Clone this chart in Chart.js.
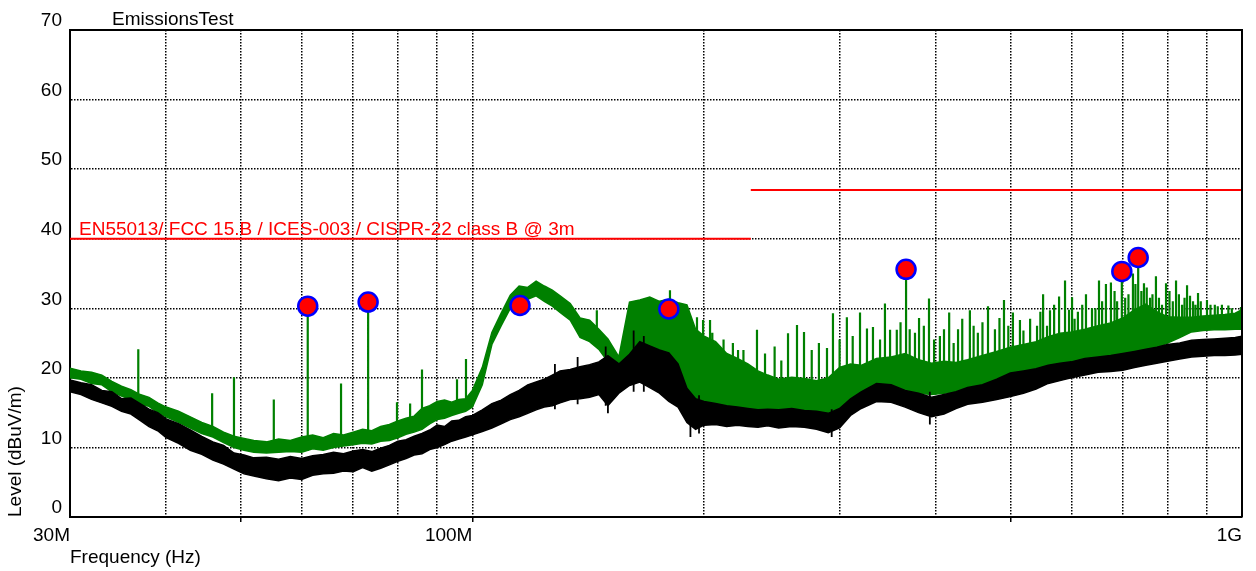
<!DOCTYPE html>
<html>
<head>
<meta charset="utf-8">
<title>EmissionsTest</title>
<script src="https://cdn.jsdelivr.net/npm/chart.js@4.4.1/dist/chart.umd.min.js"></script>
<style>
  html, body { margin: 0; padding: 0; background: #fff; }
  canvas { display: block; }
</style>
</head>
<body>
<canvas id="chart" width="1256" height="571"></canvas>
<script>
// frequencies in MHz, levels in dBuV/m
const chartTitle = "EmissionsTest";
const limitLabel = "EN55013/ FCC 15.B / ICES-003 / CISPR-22 class B @ 3m";

const bandFreq = [30, 31, 32, 33, 34, 35, 36, 37, 38, 39, 40, 41.5, 43, 44.5, 46, 47.5, 49, 50.5,
  52, 54, 56, 58, 60, 62, 64, 66, 68, 70, 72, 74, 76, 78, 80, 82, 84, 86, 88, 90, 92, 94, 96, 98, 100,
  103, 106, 109, 112, 115, 118, 121, 124, 127, 130, 134, 138, 142, 146, 150,
  155, 160, 165, 170, 175, 180, 185, 190, 195, 200, 207, 214, 221, 228, 235, 242,
  250, 260, 270, 280, 290, 300, 310, 320, 335, 350, 365, 380, 395, 410, 425, 440,
  460, 480, 500, 520, 540, 560, 580, 600, 625, 650, 675, 700, 725, 750, 775, 800,
  830, 860, 890, 920, 950, 980, 1000];

// green trace (peak), upper and lower edge of the noise band
const greenHi = [21.4, 21.0, 20.8, 20.4, 19.5, 18.8, 18.3, 17.6, 17.2, 16.4, 15.8, 15.2, 14.4, 13.6, 13.0, 12.2, 11.6, 11.3,
  11.0, 10.8, 11.2, 11.0, 11.5, 11.8, 11.4, 12.0, 11.8, 12.2, 12.6, 12.4, 13.0, 13.3, 13.8, 14.2, 14.5, 15.6, 16.0, 16.6, 16.8, 16.5, 16.9, 17.0, 18.2,
  21.5, 26.5, 29.3, 31.9, 33.2, 33.0, 33.9, 33.2, 32.6, 31.8, 30.7, 28.6, 28.3, 27.0, 25.6,
  23.0, 30.9, 31.2, 31.6, 31.0, 31.3, 30.8, 30.5, 27.0, 26.0, 25.2, 23.5, 22.8, 22.0, 21.0, 20.4,
  19.8, 20.1, 19.9, 19.6, 20.0, 21.5, 22.0, 21.8, 22.8, 23.0, 23.5, 22.6, 22.1, 22.4, 22.2, 22.6,
  23.2, 23.8, 24.4, 24.8, 25.2, 25.9, 26.4, 26.6, 27.0, 27.5, 27.9, 28.6, 29.8, 30.6, 29.5, 28.8,
  28.7, 28.7, 28.9, 29.0, 29.1, 29.3, 29.8];
const greenLo = [20.0, 19.8, 19.2, 19.0, 18.0, 17.4, 16.9, 16.2, 15.9, 15.0, 14.4, 13.6, 12.8, 12.0, 11.5, 10.7, 10.0, 9.6,
  9.3, 9.2, 9.3, 9.4, 9.3, 9.8, 9.6, 10.0, 10.2, 10.4, 10.6, 10.5, 10.9, 11.0, 11.4, 11.9, 12.2, 12.6, 13.4, 14.0, 14.2, 14.6, 14.9, 15.2, 15.8,
  19.0, 24.8, 27.5, 30.0, 31.0, 31.3, 31.8, 31.0, 30.3, 29.4, 28.3, 25.8, 25.2, 24.1, 22.3,
  19.8, 22.5, 24.0, 24.3, 23.5, 23.0, 21.5, 18.0, 16.5, 16.4, 16.2, 16.0, 15.8, 15.6, 15.4, 15.5,
  15.4, 15.6, 15.3, 15.2, 14.9, 15.6, 17.0, 17.6, 18.8, 19.0, 18.0, 17.8, 17.6, 17.8, 18.0, 18.2,
  18.8, 19.6, 20.1, 20.4, 20.8, 21.2, 21.5, 22.0, 22.6, 23.0, 23.2, 23.5, 23.8, 24.2, 24.4, 25.0,
  25.8, 26.6, 26.8, 26.9, 26.9, 27.0, 27.0];

// black trace (average), upper and lower edge of the noise band
const blackHi = [19.7, 19.3, 19.0, 18.2, 18.0, 17.0, 17.1, 16.3, 15.5, 15.0, 14.1, 13.4, 12.5, 11.6, 10.8, 10.3, 9.2, 8.9,
  8.5, 8.6, 8.3, 8.7, 8.4, 8.8, 9.0, 9.3, 9.1, 9.5, 9.7, 9.4, 9.9, 10.3, 10.9, 11.1, 11.6, 12.0, 12.5, 13.2, 13.0, 13.8, 13.9, 14.4, 14.6,
  15.4, 16.3, 16.8, 17.6, 18.2, 19.0, 19.4, 19.8, 20.4, 21.0, 21.2, 21.6, 21.9, 22.3, 23.2,
  22.0, 23.4, 25.2, 24.6, 24.0, 23.6, 22.0, 18.5, 17.0, 16.6, 16.3, 16.0, 15.8, 15.6, 15.4, 15.5,
  15.4, 15.6, 15.3, 15.2, 14.9, 15.6, 17.0, 18.0, 19.2, 19.0, 18.2, 17.8, 17.2, 17.6, 18.0, 18.6,
  19.0, 19.8, 20.7, 21.0, 21.3, 21.8, 22.1, 22.3, 22.8, 23.0, 23.2, 23.5, 23.8, 24.1, 24.4, 24.8,
  25.0, 25.4, 25.5, 25.6, 25.7, 25.8, 26.0];
const blackLo = [18.0, 17.6, 16.9, 16.4, 15.9, 15.2, 14.8, 13.9, 13.0, 12.4, 11.4, 10.6, 9.6, 9.0, 8.2, 7.6, 6.9, 6.2,
  5.9, 5.5, 5.2, 5.6, 5.4, 6.0, 6.2, 6.3, 6.6, 6.5, 7.1, 6.6, 7.0, 7.5, 8.0, 8.4, 8.9, 9.1, 9.7, 10.0, 10.4, 10.9, 11.2, 11.5, 11.8,
  12.3, 12.8, 13.4, 14.0, 14.4, 14.9, 15.4, 15.8, 16.0, 16.4, 16.9, 17.0, 17.2, 17.6, 16.0,
  17.8, 18.9, 19.4, 18.6, 17.8, 16.6, 15.8, 13.6, 12.6, 13.2, 13.3, 13.0, 13.2, 13.0, 12.9, 13.1,
  12.8, 13.0, 12.9, 12.6, 12.1, 12.8, 14.6, 15.6, 16.6, 16.5, 15.8, 15.0, 14.4, 14.8, 15.6, 16.2,
  16.5, 16.9, 17.3, 17.8, 18.4, 19.2, 19.6, 20.0, 20.4, 20.8, 20.9, 21.1, 21.5, 21.8, 22.1, 22.4,
  22.7, 23.0, 23.1, 23.2, 23.2, 23.3, 23.4];

// narrowband spikes on the green trace
const spikeFreq = [36.8, 45.9, 49.0, 55.2, 61.1, 67.5, 73.2, 79.8, 83.0, 86.0, 95.5, 98.1,
  145.1, 180.6, 195.8, 199.4, 203.6, 205, 212, 218, 221.4, 225, 234.3, 240, 247, 252, 257.1, 264.1, 269.7,
  276, 282, 288.9, 294.1, 300, 306.6, 312, 318.9, 325.6, 331.5, 338.6, 343.6, 348.9, 356.0, 360, 366.0,
  370, 375.9, 380.5, 386, 392.0, 398, 405.0, 410, 416.4, 422, 427.6, 433, 443.0, 448, 453.7, 460,
  467.7, 477.5, 484, 490.6, 497, 503.9, 514.6, 520, 530.5, 541.6, 547, 551.5, 558, 563.0, 570,
  578.5, 588.9, 596, 601.4, 606, 612.0, 620, 627.0, 638.4, 645, 651.9, 658, 665.6, 675.6, 683, 688.2,
  698.0, 705, 712, 721.6, 727, 733.0, 740, 745.8, 752, 759.4, 765, 773.0, 780, 787.2, 796.7,
  805, 813, 820.9, 828, 835.8, 842, 848.4, 856, 863.7, 870, 876.7, 884, 900.5, 910, 921.9,
  930, 941.7, 960, 970, 996.9];
const spikeBase = [17.5, 12.5, 11.0, 10.0, 9.5, 10.5, 10.5, 12.0, 12.5, 13.0, 15.0, 15.5,
  26.0, 28.0, 22.0, 22.0, 22.0, 22.0, 21.0, 20.0, 20.0, 19.5, 19.0, 18.5, 18.5, 18.5, 18.5, 18.5, 18.5,
  18.5, 18.5, 18.5, 19.0, 19.5, 20.0, 20.5, 20.5, 20.5, 21.0, 21.5, 21.5, 21.5, 22.0, 22.0, 22.0,
  22.0, 21.5, 21.5, 21.5, 21.0, 21.0, 21.0, 21.0, 21.0, 21.0, 21.0, 21.0, 21.5, 21.5, 22.0, 22.0,
  22.0, 22.5, 22.5, 23.0, 23.0, 23.0, 23.5, 23.5, 23.5, 24.0, 24.0, 24.0, 24.5, 24.5, 24.5,
  25.0, 25.0, 25.0, 25.0, 25.0, 25.5, 25.5, 26.0, 26.0, 26.0, 26.5, 26.5, 26.5, 27.0, 27.0, 27.0,
  27.0, 27.5, 27.5, 28.0, 28.0, 28.5, 28.5, 28.5, 28.5, 28.5, 28.5, 28.5, 28.5, 28.0, 28.0,
  28.0, 28.0, 28.0, 28.0, 28.0, 28.0, 28.0, 28.0, 28.0, 28.0, 28.0, 28.0, 28.0, 28.0, 28.0,
  28.0, 28.0, 28.5, 28.5, 28.5];
const spikePeak = [24.1, 17.8, 20.1, 16.9, 30.3, 19.2, 30.9, 16.5, 16.3, 21.2, 19.8, 22.7,
  29.7, 32.6, 28.7, 28.3, 28.3, 26.5, 25.5, 25.0, 24.0, 24.0, 26.9, 23.5, 24.5, 22.5, 26.4, 27.6, 26.6,
  24.0, 25.0, 24.3, 29.3, 25.5, 28.7, 26.0, 29.4, 27.1, 27.3, 25.5, 30.7, 26.9, 26.9, 28.0, 35.6,
  27.0, 26.5, 28.6, 27.5, 31.4, 25.5, 26.0, 27.0, 29.4, 25.0, 27.0, 28.5, 29.7, 27.5, 26.5, 28.0,
  30.3, 27.0, 28.6, 31.2, 27.5, 29.4, 28.3, 26.8, 28.5, 27.5, 29.5, 32.0, 27.5, 29.7, 30.5,
  31.7, 34.0, 29.8, 31.6, 28.5, 29.5, 30.5, 32.0, 30.0, 30.0, 34.0, 31.0, 33.5, 33.7, 32.5, 31.0,
  35.3, 31.5, 32.0, 35.0, 33.5, 37.3, 32.5, 33.6, 33.0, 31.5, 32.0, 34.6, 31.5, 30.5, 33.6,
  32.5, 31.0, 34.0, 32.0, 30.5, 31.5, 33.3, 31.8, 31.0, 30.5, 32.2, 31.0, 31.2, 30.5, 30.5,
  30.3, 30.5, 30.4, 30.0, 30.2];

// larger noise excursions on the black trace
const blackSpikeFreq = [128, 137, 149, 150, 162, 167, 192, 197, 293, 393];
const blackSpikeLo = [15.5, 16.2, 16.0, 14.9, 18.0, 18.0, 11.5, 12.0, 11.5, 13.3];
const blackSpikeHi = [22.0, 23.0, 24.5, 20.0, 26.8, 26.0, 17.5, 17.5, 15.5, 18.0];

// peak markers
const markerFreq = [61.1, 73.2, 115.3, 180.0, 366.0, 698.0, 733.0];
const markerLevel = [30.3, 30.9, 30.4, 29.9, 35.6, 35.3, 37.3];

// class B limit line (null breaks the step)
const limitFreq = [30, 230, 230, 230, 1000];
const limitLevel = [40, 40, null, 47, 47];

// x grid and labels
const gridFreq = [30, 40, 50, 60, 70, 80, 90, 100, 200, 300, 400, 500, 600, 700, 800, 900, 1000];
const tickLabels = { 30: "30M", 100: "100M", 1000: "1G" };
const tickMarks = [50, 100, 500];

const GREEN = "#008000";
const RED = "#ff0000";
const font = { family: "'Liberation Sans', Arial, sans-serif", size: 19 };

const pts = (xs, ys) => xs.map((x, i) => ({ x, y: ys[i] }));
const verticals = (xs, from, to) => xs.flatMap((f, i) => [
  { x: f, y: from[i] }, { x: f, y: to[i] }, { x: f, y: null }
]);

const lineStyle = { pointRadius: 0, tension: 0, spanGaps: false };

const annotations = {
  id: "annotations",
  afterDatasetsDraw(chart) {
    const { ctx, chartArea: a, scales: { x, y } } = chart;
    ctx.save();
    // top and right frame
    ctx.strokeStyle = "#000";
    ctx.lineWidth = 2;
    ctx.beginPath();
    ctx.moveTo(a.left, a.top);
    ctx.lineTo(a.right, a.top);
    ctx.lineTo(a.right, a.bottom);
    ctx.stroke();
    ctx.font = "19px 'Liberation Sans', Arial, sans-serif";
    ctx.textBaseline = "alphabetic";
    ctx.textAlign = "left";
    ctx.fillStyle = RED;
    ctx.fillText(limitLabel, x.getPixelForValue(limitFreq[0]) + 9, y.getPixelForValue(limitLevel[0]) - 4);
    ctx.fillStyle = "#000";
    ctx.fillText(chartTitle, a.left + 42, a.top - 5);
    ctx.restore();
  }
};

new Chart(document.getElementById("chart"), {
  type: "line",
  data: {
    datasets: [
      { data: pts(markerFreq, markerLevel), showLine: false, order: 0,
        pointRadius: 9.5, pointBorderWidth: 2.5,
        pointBackgroundColor: RED, pointBorderColor: "#0000ff" },
      { data: pts(limitFreq, limitLevel), order: 1, borderColor: RED, borderWidth: 2, ...lineStyle },
      { data: verticals(blackSpikeFreq, blackSpikeLo, blackSpikeHi), order: 2, borderColor: "#000", borderWidth: 1.8, ...lineStyle },
      { data: pts(bandFreq, blackLo), order: 2, borderColor: "#000", borderWidth: 1.5, ...lineStyle },
      { data: pts(bandFreq, blackHi), order: 2, borderColor: "#000", borderWidth: 1.5,
        fill: "-1", backgroundColor: "#000", ...lineStyle },
      { data: verticals(spikeFreq, spikeBase, spikePeak), order: 3, borderColor: GREEN, borderWidth: 2.2, ...lineStyle },
      { data: pts(bandFreq, greenLo), order: 4, borderColor: GREEN, borderWidth: 1.5, ...lineStyle },
      { data: pts(bandFreq, greenHi), order: 4, borderColor: GREEN, borderWidth: 1.5,
        fill: "-1", backgroundColor: GREEN, ...lineStyle }
    ]
  },
  options: {
    responsive: false,
    animation: false,
    layout: { padding: { top: 30, right: 14, left: 0, bottom: 0 } },
    plugins: { legend: { display: false }, tooltip: { enabled: false } },
    scales: {
      x: {
        type: "logarithmic",
        min: 30,
        max: 1000,
        afterBuildTicks: s => { s.ticks = gridFreq.map(v => ({ value: v })); },
        afterFit: s => { s.height = 54; },
        ticks: {
          autoSkip: false, maxRotation: 0, align: "end", padding: 2,
          font, color: "#000",
          callback: v => tickLabels[v] || ""
        },
        grid: {
          color: c => (c.tick && (c.tick.value === 30 || c.tick.value === 1000)) ? "rgba(0,0,0,0)" : "#000",
          lineWidth: 1.5,
          tickLength: 5,
          tickWidth: 1.5,
          tickColor: c => (c.tick && tickMarks.includes(c.tick.value)) ? "#000" : "rgba(0,0,0,0)"
        },
        border: { display: true, color: "#000", width: 2, dash: [1.5, 1.5] },
        title: { display: true, text: "Frequency (Hz)", align: "start", font, color: "#000", padding: { top: 2, bottom: 2 } }
      },
      y: {
        min: 0,
        max: 70,
        afterFit: s => { s.width = 70; },
        ticks: { stepSize: 10, font, color: "#000", padding: 8, labelOffset: -9 },
        grid: {
          color: c => (c.tick && (c.tick.value === 0 || c.tick.value === 70)) ? "rgba(0,0,0,0)" : "#000",
          lineWidth: 1.5,
          drawTicks: false
        },
        border: { display: true, color: "#000", width: 2, dash: [1.5, 1.5] },
        title: { display: true, text: "Level (dBuV/m)", align: "start", font, color: "#000", padding: { top: 4, bottom: 0 } }
      }
    }
  },
  plugins: [annotations]
});
</script>
</body>
</html>
